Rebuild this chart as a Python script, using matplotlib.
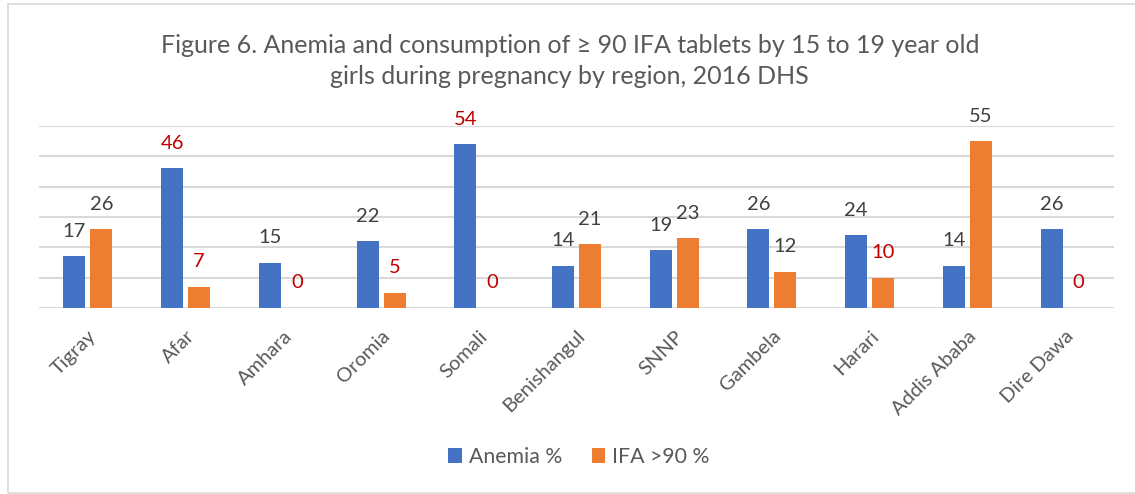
import numpy as np
import matplotlib
matplotlib.use("Agg")
import matplotlib.pyplot as plt
from matplotlib.patches import Rectangle

# Data
regions = ["Tigray", "Afar", "Amhara", "Oromia", "Somali", "Benishangul",
           "SNNP", "Gambela", "Harari", "Addis Ababa", "Dire Dawa"]
anemia = [17, 46, 15, 22, 54, 14, 19, 26, 24, 14, 26]
ifa = [26, 7, 0, 5, 0, 21, 23, 12, 10, 55, 0]
# which data labels are shown in red
anemia_red = ["Afar", "Somali"]
ifa_red = ["Afar", "Amhara", "Oromia", "Somali", "Harari", "Dire Dawa"]

title_lines = ["Figure 6. Anemia and consumption of \u2265 90 IFA tablets by 15 to 19 year old",
               "girls during pregnancy by region, 2016 DHS"]

plt.rcParams['font.family'] = ['Lato', 'DejaVu Sans']

BLUE = "#4472C4"
ORANGE = "#ED7D31"
GRAY = "#595959"
DARK = "#404040"
RED = "#C00000"

fig = plt.figure(figsize=(11.35, 4.94), dpi=100)
ax = fig.add_axes([39 / 1135, 186 / 494, 1075 / 1135, 182 / 494])

x = np.arange(len(regions))
w = 0.225
off = 0.138
b1 = ax.bar(x - off, anemia, w, color=BLUE, label="Anemia %", zorder=3)
b2 = ax.bar(x + off, ifa, w, color=ORANGE, label="IFA >90 %", zorder=3)

def add_labels(bars, vals, red):
    for bar, v, r in zip(bars, vals, regions):
        c = RED if r in red else DARK
        ax.annotate(str(v), (bar.get_x() + bar.get_width() / 2, v),
                    xytext=(0, 18), textcoords="offset points",
                    ha="center", va="center", fontsize=14.5, color=c,
                    annotation_clip=False)

add_labels(b1, anemia, anemia_red)
add_labels(b2, ifa, ifa_red)

ax.set_xlim(-0.5, len(regions) - 0.5)
ax.set_ylim(0, 60)
ax.set_yticks(np.arange(0, 61, 10))
ax.yaxis.grid(True, color="#D9D9D9", linewidth=1.5, zorder=0)
ax.tick_params(axis="y", left=False, labelleft=False)
ax.tick_params(axis="x", length=0, pad=14)
for s in ax.spines.values():
    s.set_visible(False)
ax.set_xticks(x)
ax.set_xticklabels(regions, rotation=45, ha="right", va="top",
                   rotation_mode="anchor", fontsize=14.5, color=GRAY)

fig.text(0.502, 1 - 53 / 494, title_lines[0], ha="center", va="baseline",
         fontsize=18, color=GRAY)
fig.text(0.502, 1 - 84 / 494, title_lines[1], ha="center", va="baseline",
         fontsize=18, color=GRAY)

fig.legend(handles=[b1, b2], loc="center", bbox_to_anchor=(0.51, 0.075),
           ncol=2, frameon=False, fontsize=15.3, labelcolor=GRAY,
           handlelength=0.65, handleheight=0.65, handletextpad=0.3,
           columnspacing=1.4)

fig.patches.append(Rectangle((8 / 1135, 1 / 494), 1.2, 489 / 494,
                             transform=fig.transFigure, fill=False,
                             edgecolor="#D9D9D9", linewidth=1.2))

fig.savefig("out.png", dpi=100)
